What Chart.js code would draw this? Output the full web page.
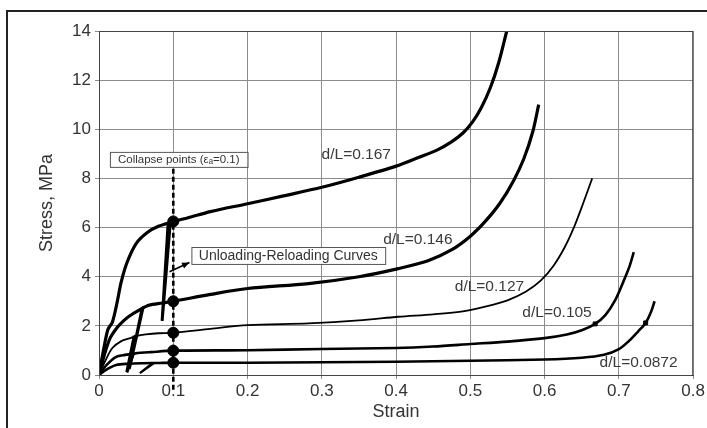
<!DOCTYPE html>
<html><head><meta charset="utf-8">
<script src="https://cdn.jsdelivr.net/npm/chart.js@4.4.1/dist/chart.umd.min.js"></script>
<style>html,body{margin:0;padding:0;background:#fff}</style>
</head><body>
<canvas id="c" width="707" height="428" style="width:707px;height:428px;display:block"></canvas>
<script>
// ---- tick labels ----
const xTickLabels = ['0','0.1','0.2','0.3','0.4','0.5','0.6','0.7','0.8'];
const yTickLabels = ['0','2','4','6','8','10','12','14'];

// ---- series names ----
const seriesNames = ['d/L=0.167','d/L=0.146','d/L=0.127','d/L=0.105','d/L=0.0872'];

// ---- main loading curves (strain, stress MPa) ----
const strain167 = [0,0.006,0.012,0.018,0.024,0.03,0.038,0.05,0.065,0.08,0.1,0.12,0.15,0.2,0.25,0.3,0.35,0.4,0.43,0.455,0.475,0.49,0.503,0.515,0.527,0.538,0.549];
const stress167 = [0,1.0,1.85,2.15,2.9,3.8,4.6,5.35,5.8,6.05,6.25,6.4,6.65,6.97,7.3,7.64,8.05,8.5,8.85,9.15,9.5,9.85,10.3,10.9,11.7,12.7,14.0];

const strain146 = [0,0.008,0.015,0.025,0.033,0.041,0.054,0.067,0.085,0.1,0.15,0.2,0.282,0.35,0.403,0.443,0.475,0.5,0.52,0.54,0.558,0.572,0.584,0.592];
const stress146 = [0,0.9,1.5,1.95,2.2,2.4,2.64,2.84,2.93,3.0,3.28,3.52,3.72,4.0,4.33,4.65,5.1,5.65,6.25,7.0,7.9,8.8,9.9,11.0];

const strain127 = [0,0.008,0.018,0.03,0.041,0.05,0.063,0.08,0.1,0.15,0.2,0.282,0.35,0.403,0.45,0.492,0.52,0.55,0.575,0.595,0.612,0.627,0.64,0.652,0.664];
const stress127 = [0,0.55,1.1,1.38,1.49,1.58,1.65,1.7,1.72,1.88,2.03,2.1,2.22,2.37,2.47,2.6,2.78,3.04,3.4,3.85,4.45,5.2,6.05,7.0,8.0];

const strain105 = [0,0.01,0.023,0.035,0.049,0.07,0.1,0.2,0.3,0.4,0.45,0.5,0.55,0.6,0.63,0.65,0.668,0.682,0.695,0.706,0.714,0.72];
const stress105 = [0,0.4,0.74,0.82,0.88,0.93,0.99,1.01,1.06,1.1,1.16,1.26,1.36,1.5,1.65,1.82,2.08,2.45,3.05,3.8,4.4,5.0];

const strain0872 = [0,0.01,0.023,0.04,0.06,0.08,0.1,0.2,0.3,0.4,0.5,0.6,0.65,0.68,0.7,0.714,0.726,0.736,0.743,0.748];
const stress0872 = [0,0.22,0.41,0.46,0.48,0.49,0.5,0.5,0.52,0.54,0.58,0.63,0.7,0.82,1.05,1.4,1.78,2.12,2.55,3.0];

// ---- unloading-reloading segments ----
const unloadStrain167 = [0.093,0.085,0.096];
const unloadStress167 = [6.15,2.2,6.2];
const unloadStrain146 = [0.058,0.041,0.06];
const unloadStress146 = [2.75,0.25,2.8];
const unloadStrain127 = [0.047,0.037,0.049];
const unloadStress127 = [1.6,0.12,1.63];
const unloadStrain105 = [0.045,0.038,0.047];
const unloadStress105 = [0.86,0.1,0.87];
const unloadStrain0872 = [0.072,0.055,0.075];
const unloadStress0872 = [0.48,0.08,0.5];

// ---- collapse points (strain 0.1) ----
const collapseStrain = [0.1,0.1,0.1,0.1,0.1];
const collapseStress = [6.25,3.0,1.72,0.99,0.5];
const collapseLineStrain = [0.1,0.1];
const collapseLineStress = [-0.6,8.45];

// ---- small marks near curve ends ----
const endMarkStrain = [0.668,0.736];
const endMarkStress = [2.08,2.12];

const pts = (xs, ys) => xs.map((x, i) => ({x, y: ys[i]}));

function curve(label, xs, ys, w) {
  return {label, data: pts(xs, ys), showLine: true, borderColor: '#000', backgroundColor: '#000',
    borderWidth: w, pointRadius: 0, tension: 0.3, fill: false, order: 2};
}
function seg(xs, ys, w) {
  return {data: pts(xs, ys), showLine: true, borderColor: '#000', borderWidth: w, pointRadius: 0,
    tension: 0, fill: false, order: 2};
}

const datasets = [
  curve(seriesNames[0], strain167, stress167, 3.2),
  curve(seriesNames[1], strain146, stress146, 3.2),
  curve(seriesNames[2], strain127, stress127, 1.8),
  curve(seriesNames[3], strain105, stress105, 2.6),
  curve(seriesNames[4], strain0872, stress0872, 2.6),
  seg(unloadStrain167, unloadStress167, 3),
  seg(unloadStrain146, unloadStress146, 2.6),
  seg(unloadStrain127, unloadStress127, 2.4),
  seg(unloadStrain105, unloadStress105, 2.2),
  seg(unloadStrain0872, unloadStress0872, 2.2),
  {data: pts(collapseLineStrain, collapseLineStress), showLine: true, borderColor: '#000', borderWidth: 2.6,
    borderDash: [5, 3], pointRadius: 0, clip: false, order: 1},
  {data: pts(collapseStrain, collapseStress), showLine: false, pointRadius: 5.5, pointBackgroundColor: '#000',
    pointBorderColor: '#000', order: 0},
  {data: pts(endMarkStrain, endMarkStress), showLine: false, pointRadius: 2.8, pointStyle: 'rect',
    pointBackgroundColor: '#000', pointBorderColor: '#000', order: 0}
];

// annotation placement (data coordinates)
const curveLabelAnchors = [
  {x: 0.2997, y: 8.95}, {x: 0.3826, y: 5.49}, {x: 0.479, y: 3.58}, {x: 0.57, y: 2.52}, {x: 0.674, y: 0.49}
];

const deco = {
  id: 'deco',
  beforeDraw(chart) {
    const ctx = chart.ctx;
    ctx.save();
    ctx.fillStyle = '#fff';
    ctx.fillRect(0, 0, chart.width, chart.height);
    ctx.strokeStyle = '#222';
    ctx.lineWidth = 2;
    ctx.strokeRect(7, 11, 760, 480);
    ctx.restore();
  },
  afterDatasetsDraw(chart) {
    const ctx = chart.ctx, xs = chart.scales.x, ys = chart.scales.y;
    const X = v => xs.getPixelForValue(v), Y = v => ys.getPixelForValue(v);
    const a = chart.chartArea;
    ctx.save();
    // plot frame
    ctx.strokeStyle = '#444'; ctx.lineWidth = 1;
    ctx.strokeRect(a.left + 0.5, a.top + 0.5, a.right - a.left - 1, a.bottom - a.top);
    // curve labels
    ctx.fillStyle = '#3a3a3a';
    ctx.font = '15.5px "Liberation Sans", Arial, sans-serif';
    ctx.textBaseline = 'middle'; ctx.textAlign = 'left';
    seriesNames.forEach((n, i) => ctx.fillText(n, X(curveLabelAnchors[i].x), Y(curveLabelAnchors[i].y)));
    // collapse box
    let bx = X(0.0147), by = Y(9.08), bw = X(0.2) - bx, bh = Y(8.47) - by;
    ctx.fillStyle = '#fff'; ctx.fillRect(bx, by, bw, bh);
    ctx.strokeStyle = '#555'; ctx.lineWidth = 1; ctx.strokeRect(bx + 0.5, by + 0.5, bw, bh);
    ctx.fillStyle = '#333'; ctx.font = '11.5px "Liberation Sans", Arial, sans-serif';
    ctx.textAlign = 'center';
    ctx.fillText('Collapse points (\u03b5\u2090=0.1)', bx + bw / 2, by + bh / 2 + 0.5);
    // unloading box
    bx = X(0.1244); by = Y(5.21); bw = X(0.3853) - bx; bh = Y(4.52) - by;
    ctx.fillStyle = '#fff'; ctx.fillRect(bx, by, bw, bh);
    ctx.strokeStyle = '#555'; ctx.strokeRect(bx + 0.5, by + 0.5, bw, bh);
    ctx.fillStyle = '#333'; ctx.font = '14px "Liberation Sans", Arial, sans-serif';
    ctx.fillText('Unloading-Reloading Curves', bx + bw / 2, by + bh / 2 + 0.5);
    // arrow
    const x1 = X(0.095), y1 = Y(4.2), x2 = X(0.1217), y2 = Y(4.58);
    ctx.strokeStyle = '#000'; ctx.lineWidth = 1.6;
    ctx.beginPath(); ctx.moveTo(x1, y1); ctx.lineTo(x2, y2); ctx.stroke();
    const ang = Math.atan2(y2 - y1, x2 - x1);
    ctx.fillStyle = '#000';
    ctx.beginPath(); ctx.moveTo(x2, y2);
    ctx.lineTo(x2 - 8 * Math.cos(ang - 0.4), y2 - 8 * Math.sin(ang - 0.4));
    ctx.lineTo(x2 - 8 * Math.cos(ang + 0.4), y2 - 8 * Math.sin(ang + 0.4));
    ctx.closePath(); ctx.fill();
    ctx.restore();
  }
};

new Chart(document.getElementById('c'), {
  type: 'scatter',
  data: {datasets},
  options: {
    responsive: false, animation: false, devicePixelRatio: 1,
    layout: {padding: {left: 0, right: 10, top: 31, bottom: 0}},
    plugins: {legend: {display: false}, tooltip: {enabled: false}},
    scales: {
      x: {
        type: 'linear', min: 0, max: 0.8,
        afterFit: s => { s.height = 53; },
        afterBuildTicks: s => { s.ticks = xTickLabels.map(t => ({value: parseFloat(t)})); },
        ticks: {callback: (v, i) => xTickLabels[i], color: '#333', padding: 2, maxRotation: 0,
          font: {family: '"Liberation Sans", Arial, sans-serif', size: 17}},
        grid: {color: '#8c8c8c', lineWidth: 1, tickLength: 4},
        border: {color: '#444', width: 1},
        title: {display: true, text: 'Strain', color: '#333', padding: {top: 0, bottom: 5},
          font: {family: '"Liberation Sans", Arial, sans-serif', size: 18}}
      },
      y: {
        type: 'linear', min: 0, max: 14,
        afterFit: s => { s.width = 99; },
        afterBuildTicks: s => { s.ticks = yTickLabels.map(t => ({value: parseFloat(t)})); },
        ticks: {callback: (v, i) => yTickLabels[i], color: '#333', padding: 4,
          font: {family: '"Liberation Sans", Arial, sans-serif', size: 17}},
        grid: {color: '#8c8c8c', lineWidth: 1, tickLength: 4},
        border: {color: '#444', width: 1},
        title: {display: true, text: 'Stress, MPa', color: '#333', padding: {top: 36, bottom: 0},
          font: {family: '"Liberation Sans", Arial, sans-serif', size: 18}}
      }
    }
  },
  plugins: [deco]
});
</script>
</body></html>
